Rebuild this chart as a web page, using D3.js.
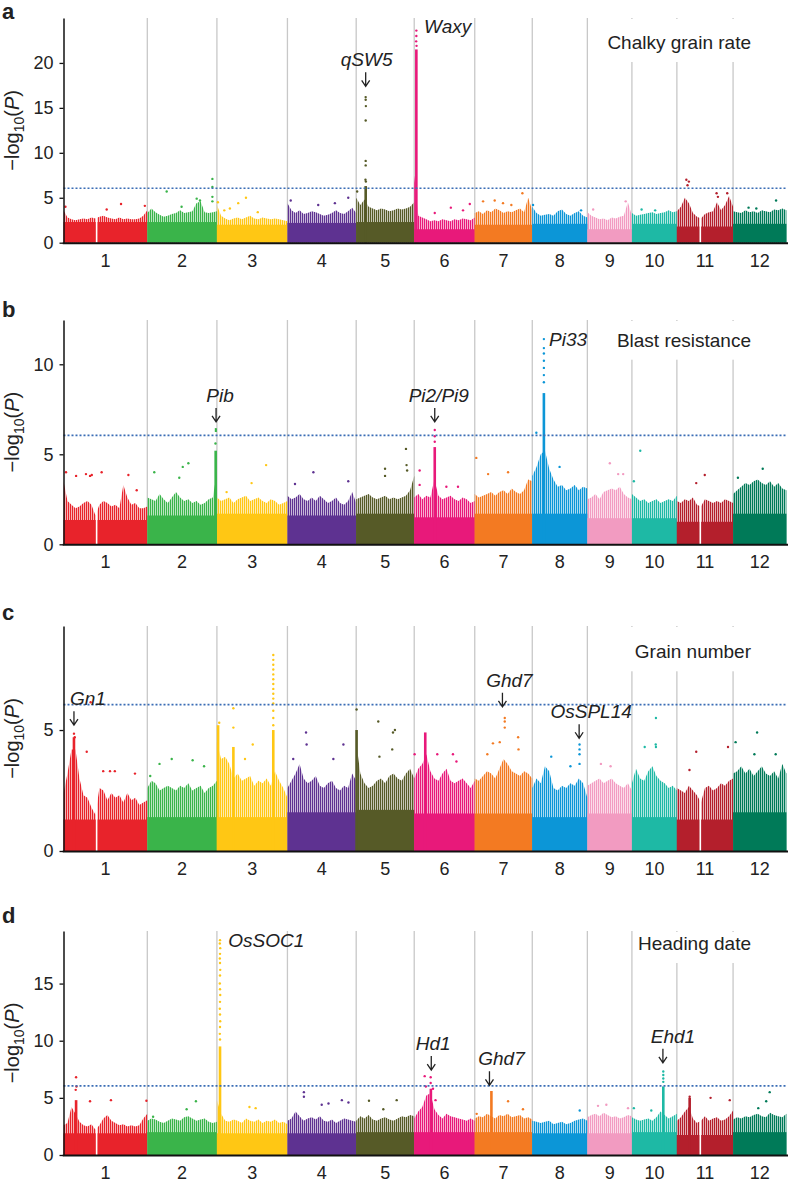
<!DOCTYPE html>
<html><head><meta charset="utf-8">
<script src="https://cdn.jsdelivr.net/npm/d3@7"></script>
<style>body{margin:0;background:#fff;} svg{display:block;} text{font-family:"Liberation Sans",Arial,Helvetica,sans-serif;fill:#222;}</style>
</head><body><svg id="chart" width="788" height="1185"></svg>
<script>
// ---------------- DATA ----------------
const chromLabels = ["1","2","3","4","5","6","7","8","9","10","11","12"];
const chromLengths = [43.27, 35.94, 36.41, 35.50, 29.96, 31.25, 29.70, 28.44, 23.01, 23.21, 29.02, 27.53]; // Mb
const chromColors = ["#E8232B","#3AB44A","#FFC714","#5E3291","#565A27","#E8197A","#F37A22","#0C96D7","#F29BC1","#1EB9A5","#B41F2C","#007A58"];
const threshold = 6.05;
const gaps = [[1, 17.1], [11, 12.1]]; // chromosome, Mb (no markers)

// Panel a: Chalky grain rate
const envA = [
 [3.6,2.8,2.6,2.5,2.6,2.7,2.6,2.8,2.7,2.9,3.0,2.8,2.7,2.6,2.8,2.6,2.7,2.6,2.6,2.7,3.0,3.6],
 [3.3,3.8,3.4,3.1,2.9,3.0,3.2,3.3,3.6,3.3,3.4,3.5,4.4,4.6,3.4,3.3,3.4,3.5],
 [4.2,3.0,2.7,2.5,2.7,2.8,2.6,2.8,3.0,2.7,2.6,2.8,2.7,2.6,2.7,2.6,2.5,2.4],
 [4.4,3.6,3.3,3.6,3.2,3.3,3.5,3.4,3.2,3.0,3.1,3.3,3.6,3.3,3.2,3.5,3.9,3.3],
 [5.0,4.2,4.8,4.0,3.8,3.6,3.8,3.7,3.5,3.6,3.8,3.7,3.8,4.0,4.5],
 [7.5,3.0,2.8,2.6,2.4,2.5,2.4,2.6,2.5,2.4,2.6,2.5,2.7,2.6,2.5,2.8],
 [3.3,3.5,3.2,3.6,3.4,3.8,3.6,3.3,3.5,3.4,3.6,3.8,3.4,5.0,3.6],
 [4.0,3.3,3.0,3.1,3.2,3.0,3.5,3.7,3.2,3.0,3.3,3.5,3.0,2.8],
 [3.4,3.0,2.8,2.6,2.7,2.5,2.8,2.7,2.9,3.0,4.5,3.0],
 [3.3,3.0,3.1,3.2,3.3,3.4,3.2,3.3,3.4,3.6,3.4,3.5],
 [3.5,4.0,5.0,4.4,3.3,2.9,2.7,3.2,3.4,3.5,4.5,3.6,4.2,5.2,4.0],
 [3.5,3.4,3.3,3.6,3.4,3.5,3.3,3.6,3.5,3.4,3.7,3.6,3.8,3.6]
];
const solidA = [2.3,2.3,2.0,2.2,2.3,1.5,2.0,2.1,1.5,2.1,1.8,2.1];
const spikesA = [[5,4.9,6.3],[6,1.1,21.5]];
const dotsA = [
 [1,29.7,4.3],[1,42.0,4.1],[1,22.3,3.7],[1,1.0,4.0],
 [2,10.0,5.7],[2,33.6,7.1],[2,33.6,6.2],[2,33.6,5.1],[2,33.6,4.6],[2,25.5,4.9],[2,27.2,4.7],[2,17.7,4.0],
 [3,15.0,5.0],[3,11.0,4.4],[3,3.8,3.6],[3,21.1,3.4],[3,6.7,3.8],[3,0.5,4.5],
 [4,1.7,4.7],[4,31.4,5.0],[4,15.9,4.2],[4,24.5,4.4],
 [5,4.9,16.2],[5,4.9,15.9],[5,5.0,15.2],[5,4.9,13.6],[5,4.9,9.1],[5,4.9,8.6],[5,4.8,7.0],[5,5.0,6.8],[5,0.5,5.7],
 [6,1.1,23.6],[6,1.1,23.0],[6,1.0,22.4],[6,1.2,21.9],[6,18.9,3.9],[6,25.2,3.6],[6,28.7,4.3],[6,10.6,3.3],
 [7,4.3,4.6],[7,10.3,4.7],[7,14.6,4.4],[7,24.6,5.5],[7,18.9,4.2],
 [8,0.4,4.2],[8,25.2,3.6],
 [9,3.0,3.7],[9,19.8,4.6],
 [10,5.0,3.7],[10,12.0,3.6],
 [11,4.9,7.0],[11,6.2,6.8],[11,5.5,6.4],[11,21.2,5.1],[11,20.5,5.5],[11,26.0,5.5],
 [12,22.2,4.7],[12,8.0,3.9],[12,12.0,3.8]
];

// Panel b: Blast resistance
const envB = [
 [3.5,2.4,2.2,2.0,2.1,2.3,2.4,2.2,1.6,2.2,2.4,2.3,2.1,2.2,2.0,3.3,2.6,2.2,2.3,2.0,2.0,2.1],
 [2.6,2.5,2.4,2.8,2.5,2.3,2.6,2.9,2.6,2.4,2.5,2.3,2.4,2.2,2.3,2.5,2.6,4.0],
 [2.6,2.4,2.5,2.6,2.3,2.5,2.6,2.7,2.4,2.5,2.6,2.4,2.3,2.5,2.4,2.2,2.3,2.4],
 [2.7,2.5,2.6,2.8,2.5,2.4,2.6,2.4,2.7,2.5,2.3,2.4,2.6,2.3,2.2,2.4,2.9,2.3],
 [2.5,2.6,2.7,2.8,2.6,2.5,2.6,2.7,2.5,2.6,2.5,2.6,2.7,3.0,3.8],
 [2.6,2.8,2.5,2.7,2.6,3.6,2.7,2.5,2.6,2.7,2.5,2.4,2.6,2.5,2.3,2.4],
 [2.8,2.6,2.7,2.8,2.9,2.7,2.9,3.0,2.8,3.1,2.9,2.8,3.0,3.6,3.5],
 [3.8,4.3,5.0,5.2,4.2,3.6,3.2,3.3,3.0,3.1,3.3,3.0,3.2,3.1],
 [2.5,2.6,2.8,2.5,2.9,3.0,3.1,3.0,3.2,2.8,2.6,2.5],
 [2.8,2.6,2.4,2.5,2.3,2.4,2.5,2.3,2.4,2.5,2.4,2.7],
 [2.4,2.3,2.5,2.4,2.6,2.2,2.1,2.5,2.4,2.3,2.4,2.3,2.5,2.4,2.3],
 [2.8,3.0,3.2,3.4,3.3,3.5,3.6,3.4,3.3,3.5,3.2,3.4,3.1,3.0]
];
const solidB = [1.35,1.6,1.7,1.6,1.7,1.5,1.7,1.7,1.45,1.45,1.25,1.7];
const spikesB = [[2,35.3,5.2],[6,10.6,5.4],[8,6.0,8.4]];
const dotsB = [
 [1,1.3,4.0],[1,6.5,3.8],[1,11.6,3.9],[1,13.7,3.8],[1,14.6,3.85],[1,19.7,4.0],[1,33.5,3.85],[1,37.8,3.0],
 [2,3.6,4.0],[2,18.3,4.3],[2,21.2,4.5],[2,16.5,3.7],[2,35.4,6.4],[2,35.4,6.3],[2,35.2,5.6],
 [3,25.4,4.4],[3,17.9,3.4],[3,5.0,2.9],
 [4,13.4,4.0],[4,3.9,3.35],[4,31.4,3.5],
 [5,14.9,4.2],[5,14.9,3.8],[5,25.7,5.3],[5,26.0,4.4],[5,26.3,4.1],
 [6,10.6,6.35],[6,10.6,6.0],[6,10.6,5.7],[6,2.8,4.1],[6,2.8,3.3],[6,16.6,3.2],[6,22.6,3.2],
 [7,0.8,4.8],[7,6.9,3.9],[7,17.2,4.0],
 [8,6.0,11.4],[8,6.0,10.9],[8,6.0,10.6],[8,6.0,10.2],[8,6.0,9.8],[8,6.0,9.4],[8,6.0,9.0],[8,2.1,6.2],[8,14.1,4.3],
 [9,11.6,4.5],[9,15.9,3.9],[9,18.5,3.9],
 [10,4.3,5.2],[10,1.0,3.5],
 [11,14.4,3.85],[11,10.0,3.4],
 [12,15.3,4.2],[12,2.5,3.7]
];

// Panel c: Grain number
const envC = [
 [2.4,3.2,4.2,4.2,3.0,2.3,2.2,1.8,1.5,2.6,2.5,2.1,2.4,2.2,2.3,2.0,2.4,2.1,2.2,1.9,2.0,2.1],
 [2.6,2.9,2.8,2.5,2.6,2.7,2.6,2.5,2.7,2.6,2.8,2.5,2.6,2.7,2.4,2.6,2.7,2.9],
 [4.5,3.8,3.9,3.6,3.0,3.2,2.9,3.0,3.1,2.7,2.9,2.8,3.0,2.7,3.3,2.9,2.6,2.2],
 [2.6,2.9,3.2,3.6,3.0,2.8,2.9,3.1,2.7,2.6,2.8,2.9,2.6,2.5,2.7,2.6,3.2,2.9],
 [4.5,3.2,2.8,2.6,2.7,2.9,3.0,2.8,3.1,3.2,3.0,2.9,3.2,3.4,3.0],
 [3.0,3.4,3.6,4.0,3.3,3.0,2.9,3.2,3.4,2.9,2.8,2.9,3.0,2.8,2.6,2.9],
 [3.0,2.9,3.1,3.3,3.2,3.0,3.4,3.8,3.6,3.3,3.2,3.1,3.3,3.2,3.0],
 [2.6,3.0,2.8,3.5,3.3,2.6,2.5,2.7,2.6,2.8,2.7,3.0,2.8,2.2],
 [2.7,2.8,2.9,3.0,2.8,2.9,3.0,2.8,2.7,2.6,2.8,2.5],
 [2.8,3.4,3.0,2.9,3.3,3.5,3.1,2.9,2.8,2.6,2.7,2.5],
 [2.6,2.5,2.4,2.7,2.5,2.3,2.0,2.6,2.7,2.5,2.6,2.8,2.7,2.9,3.0],
 [3.2,3.3,3.5,3.2,3.4,3.1,3.3,3.5,3.2,3.1,3.3,3.0,3.6,3.2]
];
const solidC = [1.3,1.4,1.4,1.6,1.7,1.55,1.55,1.4,1.55,1.4,1.3,1.6];
const spikesC = [[1,5.4,4.7],[3,0.6,5.2],[3,8.5,4.3],[3,29.1,5.0],[5,0.2,5.0],[6,5.7,4.9]];
const dotsC = [
 [1,5.4,4.85],[1,5.8,4.7],[1,12.0,4.1],[1,20.5,3.3],[1,24.0,3.3],[1,26.5,3.3],[1,36.9,3.2],[1,14.0,6.15],
 [2,6.3,3.6],[2,12.6,3.8],[2,23.4,3.75],[2,29.3,3.5],[2,1.5,3.1],
 [3,29.1,8.1],[3,29.1,7.9],[3,29.1,7.7],[3,29.1,7.5],[3,29.1,7.3],[3,29.1,7.1],[3,29.1,6.9],[3,29.1,6.7],[3,29.1,6.5],[3,29.1,6.3],[3,29.1,6.1],[3,29.1,5.8],[3,29.1,5.5],[3,29.1,5.2],
 [3,8.5,5.9],[3,8.5,5.1],[3,1.2,5.3],[3,18.5,4.4],[3,14.5,3.8],
 [4,9.6,4.9],[4,9.9,4.4],[4,28.9,4.4],[4,23.7,3.8],[4,3.0,3.8],
 [5,0.2,5.85],[5,11.4,5.35],[5,20.0,5.0],[5,19.0,4.9],[5,12.0,3.9],[5,18.6,4.2],
 [6,0.2,4.0],[6,11.9,4.0],[6,20.0,4.0],[6,21.8,3.7],
 [7,15.5,5.5],[7,15.5,5.35],[7,15.5,5.1],[7,12.9,4.5],[7,9.4,4.45],[7,22.4,4.7],[7,22.6,4.2],[7,6.5,4.0],
 [8,24.4,4.4],[8,24.4,4.2],[8,24.4,4.0],[8,24.4,3.6],[8,19.7,3.5],[8,9.8,3.9],
 [9,7.0,3.6],[9,12.0,3.5],
 [10,12.4,5.5],[10,12.3,4.4],[10,6.6,4.3],[10,12.4,4.3],
 [11,10.0,4.1],[11,26.4,4.3],[11,6.5,3.35],
 [12,12.4,4.9],[12,1.3,4.5],[12,11.0,4.0],[12,22.0,4.0]
];

// Panel d: Heading date
const envD = [
 [2.6,2.8,4.2,3.6,2.9,2.6,2.5,2.7,2.2,2.6,3.2,3.5,3.0,2.8,2.6,2.7,2.5,2.6,2.5,2.6,3.2,3.6],
 [3.0,3.2,3.1,2.9,2.8,3.0,3.2,3.1,3.0,3.3,3.4,3.2,3.0,3.1,3.2,2.9,2.8,2.9],
 [4.8,3.6,3.0,2.9,3.1,3.0,2.8,3.2,3.0,2.9,3.1,2.8,3.0,2.9,3.1,2.8,2.9,2.7],
 [3.0,3.2,3.8,3.4,3.0,3.2,3.3,3.1,3.4,3.0,2.9,3.1,2.8,3.0,3.2,3.1,3.0,2.9],
 [3.0,3.4,3.2,3.5,3.1,3.0,3.2,3.3,3.1,3.0,3.2,3.4,3.3,3.5,3.4],
 [3.2,3.8,4.2,5.2,5.4,4.0,3.5,3.2,3.6,3.4,3.3,3.2,3.1,3.0,3.2,3.0],
 [3.2,3.4,3.3,3.6,3.4,3.2,3.5,3.4,3.6,3.3,3.4,3.5,3.2,3.3,3.1],
 [3.0,2.9,2.8,2.9,3.0,2.7,2.8,2.9,2.7,2.8,3.0,3.1,3.2,3.0],
 [3.3,3.5,3.6,3.4,3.7,3.5,3.3,3.4,3.2,3.3,3.5,3.4],
 [3.3,3.1,3.0,3.1,3.2,3.0,3.3,3.8,3.5,3.2,3.4,3.6],
 [3.0,3.3,3.8,4.2,3.2,2.8,3.0,3.4,3.0,3.2,3.3,3.0,3.1,3.4,3.9],
 [3.1,3.3,3.2,3.4,3.3,3.5,3.6,3.4,3.3,3.7,3.5,3.4,3.3,3.6]
];
const solidD = [1.9,2.0,1.9,1.9,2.0,2.0,2.0,1.9,1.9,2.0,1.75,2.0];
const spikesD = [[1,6.5,4.8],[3,1.6,9.5],[6,8.6,5.8],[7,8.6,5.6],[10,16.2,6.0],[11,6.6,5.0]];
const dotsD = [
 [1,6.5,6.8],[1,6.7,6.0],[1,6.3,5.7],[1,13.7,4.7],[1,24.5,4.8],[1,42.8,4.75],
 [2,25.1,4.7],[2,20.3,4.0],[2,3.0,3.35],
 [3,1.6,18.8],[3,1.5,18.5],[3,1.7,18.1],[3,1.6,17.6],[3,1.5,17.2],[3,1.6,16.8],[3,1.7,16.2],[3,1.6,15.7],[3,1.5,15.0],[3,1.6,14.5],[3,1.7,14.0],[3,1.6,13.4],[3,1.5,12.8],[3,1.6,12.3],[3,1.7,11.7],[3,1.6,11.2],[3,1.5,10.6],[3,1.6,10.1],[3,16.8,4.2],[3,20.0,4.1],
 [4,8.5,5.5],[4,8.5,5.1],[4,17.7,4.4],[4,21.2,4.5],[4,28.1,4.8],[4,31.5,4.6],
 [5,6.6,4.75],[5,20.9,4.8],[5,14.0,4.0],
 [6,5.4,6.9],[6,8.5,6.8],[6,8.5,6.3],[6,9.7,5.8],[6,6.0,6.0],[6,11.0,4.8],
 [7,17.2,4.7],[7,24.9,4.0],[7,1.0,3.6],
 [8,24.5,3.9],
 [9,5.5,4.3],[9,9.8,4.4],[9,21.0,4.1],
 [10,16.2,7.3],[10,16.2,7.0],[10,16.2,6.7],[10,16.2,6.4],[10,1.0,4.1],[10,10.0,3.9],
 [11,6.6,5.1],[11,17.4,5.0],[11,27.3,4.8],
 [12,18.9,5.5],[12,17.1,4.7],[12,13.0,4.1]
];

// Annotations: gene labels (chromosome, Mb, -log10P of arrow tip or label baseline)
const annotA = [{label:"qSW5",chr:5,pos:4.9,v:17.4,arrow:true,dx:1},{label:"Waxy",chr:6,pos:5.1,v:23.3,arrow:false}];
const annotB = [{label:"Pib",chr:2,pos:35.5,v:6.8,arrow:true,dx:4},{label:"Pi2/Pi9",chr:6,pos:10.6,v:6.8,arrow:true,dx:4},{label:"Pi33",chr:8,pos:8.7,v:11.0,arrow:false}];
const annotC = [{label:"Gn1",chr:1,pos:5.4,v:5.2,arrow:true,dx:14},{label:"Ghd7",chr:7,pos:14.3,v:5.96,arrow:true,dx:7},{label:"OsSPL14",chr:8,pos:24.2,v:4.66,arrow:true,dx:12}];
const annotD = [{label:"OsSOC1",chr:3,pos:5.9,v:18.2,arrow:false},{label:"Hd1",chr:6,pos:8.8,v:7.43,arrow:true,dx:2},{label:"Ghd7",chr:7,pos:7.6,v:6.1,arrow:true,dx:12},{label:"Ehd1",chr:10,pos:16.0,v:8.07,arrow:true,dx:10}];

const titles = ["Chalky grain rate","Blast resistance","Grain number","Heading date"];
const letters = ["a","b","c","d"];
const yMax = [25, 12.46, 9.3, 19.6];
const yTicks = [[0,5,10,15,20],[0,5,10],[0,5],[0,5,10,15]];

// ---------------- LAYOUT ----------------
const layout = [
 {top:18, base:242.7, letterY:19, titleY:49},
 {top:320, base:544.3, letterY:317, titleY:346.7},
 {top:626, base:851, letterY:620, titleY:658.3},
 {top:931, base:1155, letterY:923, titleY:950}
];
const panelData = [
 {env:envA, solid:solidA, spikes:spikesA, dots:dotsA, annot:annotA},
 {env:envB, solid:solidB, spikes:spikesB, dots:dotsB, annot:annotB},
 {env:envC, solid:solidC, spikes:spikesC, dots:dotsC, annot:annotC},
 {env:envD, solid:solidD, spikes:spikesD, dots:dotsD, annot:annotD}
];

const svg = d3.select("#chart");
const totalLen = d3.sum(chromLengths);
const offsets = chromLengths.map((d,i)=>d3.sum(chromLengths.slice(0,i)));
const x = d3.scaleLinear().domain([0,totalLen]).range([63.5,786.4]);
const gx = (c,p)=>x(offsets[c-1]+p);
const FONT = '"Liberation Sans",Arial,Helvetica,sans-serif';

const defs = svg.append("defs");
chromColors.forEach((c,i)=>{
  const pt = defs.append("pattern").attr("id","st"+i).attr("patternUnits","userSpaceOnUse")
    .attr("width",2).attr("height",4);
  pt.append("rect").attr("width",1.35).attr("height",4).attr("fill",c);
});

panelData.forEach((pd,pi)=>{
  const L = layout[pi];
  const y = d3.scaleLinear().domain([0,yMax[pi]]).range([L.base,L.top]);
  const g = svg.append("g");

  // chromosome separators
  g.selectAll("line.sep").data(offsets.slice(1)).join("line")
    .attr("x1",d=>x(d)).attr("x2",d=>x(d)).attr("y1",L.top).attr("y2",L.base)
    .attr("stroke","#c8c8c8").attr("stroke-width",1.3);

  // envelope (sparse upper band) + dense base
  const area = d3.area().x(d=>x(d[0])).y0(L.base).y1(d=>y(d[1]));
  pd.env.forEach((vals,ci)=>{
    const len = chromLengths[ci];
    const pts = vals.map((v,i)=>[offsets[ci]+i*len/(vals.length-1), v]);
    g.append("path").attr("d",area(pts)).attr("fill",`url(#st${ci})`);
    g.append("rect").attr("x",x(offsets[ci])).attr("width",x(offsets[ci]+len)-x(offsets[ci]))
      .attr("y",y(pd.solid[ci])).attr("height",L.base-y(pd.solid[ci])).attr("fill",chromColors[ci]);
  });

  // dense peak columns
  g.selectAll("rect.spk").data(pd.spikes).join("rect")
    .attr("x",d=>gx(d[0],d[1])-1.3).attr("width",2.6)
    .attr("y",d=>y(d[2])).attr("height",d=>L.base-y(d[2]))
    .attr("fill",d=>chromColors[d[0]-1]);

  // marker-free gaps
  g.selectAll("rect.gap").data(gaps).join("rect")
    .attr("x",d=>gx(d[0],d[1])-0.8).attr("width",1.6)
    .attr("y",y(4.5)).attr("height",L.base-y(4.5)).attr("fill","#fff");

  // scattered points
  g.selectAll("circle").data(pd.dots).join("circle")
    .attr("cx",d=>gx(d[0],d[1])).attr("cy",d=>y(d[2])).attr("r",1.2)
    .attr("fill",d=>chromColors[d[0]-1]);

  // threshold
  g.append("line").attr("x1",x(0)).attr("x2",786).attr("y1",y(threshold)).attr("y2",y(threshold))
    .attr("stroke","#3a6db5").attr("stroke-width",1.6).attr("stroke-dasharray","2,2");

  // title with white box
  const tg = g.append("g");
  const box = tg.append("rect").attr("fill","#fff");
  const tt = tg.append("text").attr("x",751).attr("y",L.titleY).attr("text-anchor","end")
    .style("font-size","19px").style("font-family",FONT).text(titles[pi]);
  const bb = tt.node().getBBox();
  box.attr("x",bb.x-4).attr("width",bb.width+8).attr("y",L.top+1).attr("height",L.titleY+13-(L.top+1));

  // annotations
  pd.annot.forEach(a=>{
    const ax = gx(a.chr,a.pos);
    if(a.arrow){
      const tip = y(a.v), top = tip-14;
      g.append("path").attr("d",`M${ax},${top}V${tip}M${ax-4},${tip-6}L${ax},${tip}L${ax+4},${tip-6}`)
        .attr("fill","none").attr("stroke","#222").attr("stroke-width",1.3);
      g.append("text").attr("x",ax+a.dx).attr("y",top-6).attr("text-anchor","middle")
        .style("font-size","19px").style("font-style","italic").style("font-family",FONT).text(a.label);
    } else {
      g.append("text").attr("x",ax).attr("y",y(a.v)).attr("text-anchor","start")
        .style("font-size","19px").style("font-style","italic").style("font-family",FONT).text(a.label);
    }
  });

  // y axis
  const ya = g.append("g").attr("transform",`translate(${x(0)},0)`)
    .call(d3.axisLeft(y).tickValues(yTicks[pi]).tickSize(4).tickSizeOuter(0).tickPadding(6));
  ya.select(".domain").attr("stroke","#111").attr("stroke-width",1.5);
  ya.selectAll(".tick line").attr("stroke","#111").attr("stroke-width",1.3);
  ya.selectAll(".tick text").style("font-size","18px").style("font-family",FONT).attr("fill","#222");

  // x axis
  g.append("line").attr("x1",x(0)-0.75).attr("x2",788).attr("y1",L.base+0.5).attr("y2",L.base+0.5)
    .attr("stroke","#111").attr("stroke-width",2);
  g.selectAll("text.xl").data(chromLabels).join("text")
    .attr("x",(d,i)=>x(offsets[i]+chromLengths[i]/2)).attr("y",L.base+24).attr("text-anchor","middle")
    .style("font-size","18px").style("font-family",FONT).text(d=>d);

  // y label
  const yl = g.append("text").attr("transform",`translate(19,${(L.top+L.base)/2}) rotate(-90)`)
    .attr("text-anchor","middle").style("font-size","20px").style("font-family",FONT);
  yl.append("tspan").text("\u2212log");
  yl.append("tspan").attr("dy",5).style("font-size","14px").text("10");
  yl.append("tspan").attr("dy",-5).text("(");
  yl.append("tspan").style("font-style","italic").text("P");
  yl.append("tspan").text(")");

  // panel letter
  g.append("text").attr("x",2).attr("y",L.letterY).style("font-size","22px").style("font-weight","bold")
    .style("font-family",FONT).text(letters[pi]);
});
</script></body></html>
